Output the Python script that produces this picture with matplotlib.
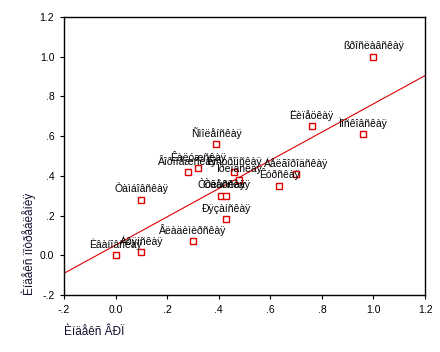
import numpy as np
import matplotlib
matplotlib.use("Agg")
import matplotlib.pyplot as plt

plt.rcParams['font.family'] = ['Liberation Sans', 'DejaVu Sans']

# region names (text as shown in the source, cp1251 read as latin)
names = ['ßðîñëàâñêàÿ', 'Ëèïåöêàÿ', 'Ìîñêîâñêàÿ', 'Ñìîëåíñêàÿ', 'Âîðîíåæñêàÿ',
         'Êàëóæñêàÿ', 'Êîñòðîìñêàÿ', 'Îðëîâñêàÿ', 'Òóëüñêàÿ', 'Òâåðñêàÿ',
         'Êóðñêàÿ', 'Áåëãîðîäñêàÿ', 'Òàìáîâñêàÿ', 'Ðÿçàíñêàÿ', 'Âëàäèìèðñêàÿ',
         'Áðÿíñêàÿ', 'Èâàíîâñêàÿ']
grp_index = [1.00, 0.76, 0.96, 0.39, 0.28, 0.32, 0.46, 0.48, 0.41, 0.43,
             0.635, 0.70, 0.10, 0.43, 0.30, 0.10, 0.00]
cons_index = [1.00, 0.65, 0.61, 0.56, 0.42, 0.44, 0.42, 0.38, 0.30, 0.30,
              0.35, 0.41, 0.28, 0.18, 0.07, 0.015, 0.00]

ticks = [-0.2, 0.0, 0.2, 0.4, 0.6, 0.8, 1.0, 1.2]
tick_labels = ['-.2', '0.0', '.2', '.4', '.6', '.8', '1.0', '1.2']

x = np.array(grp_index)
y = np.array(cons_index)

fig = plt.figure(figsize=(4.4, 3.52), dpi=100)
ax = fig.add_axes([0.1455, 0.162, 0.8205, 0.79])

k, b = np.polyfit(x, y, 1)
xl = np.array([ticks[0], ticks[-1]])
ax.plot(xl, k * xl + b, color='#e00000', linewidth=0.8)

ax.plot(x, y, linestyle='none', marker='s', markersize=4.2, markerfacecolor='white',
        markeredgecolor='#e00000', markeredgewidth=1.0)

for n, xi, yi in zip(names, x, y):
    ax.annotate(n, xy=(xi, yi), xytext=(0, 3.8), textcoords='offset points',
                ha='center', va='bottom', fontsize=7.5, color='black')

ax.set_xlim(ticks[0], ticks[-1])
ax.set_ylim(ticks[0], ticks[-1])
ax.set_xticks(ticks)
ax.set_xticklabels(tick_labels)
ax.set_yticks(ticks)
ax.set_yticklabels(tick_labels)
ax.tick_params(direction='out', length=3, width=0.8, labelsize=7.5, pad=4)
for sp in ax.spines.values():
    sp.set_linewidth(1.0)

ax.set_xlabel('Èíäåêñ ÂÐÏ', loc='left', fontsize=8.5, labelpad=8, color='#101030')
ax.set_ylabel('Èíäåêñ ïîòðåáëåíèÿ', loc='bottom', fontsize=8.5, labelpad=3, color='#101030')

fig.savefig('out.png', dpi=100)
